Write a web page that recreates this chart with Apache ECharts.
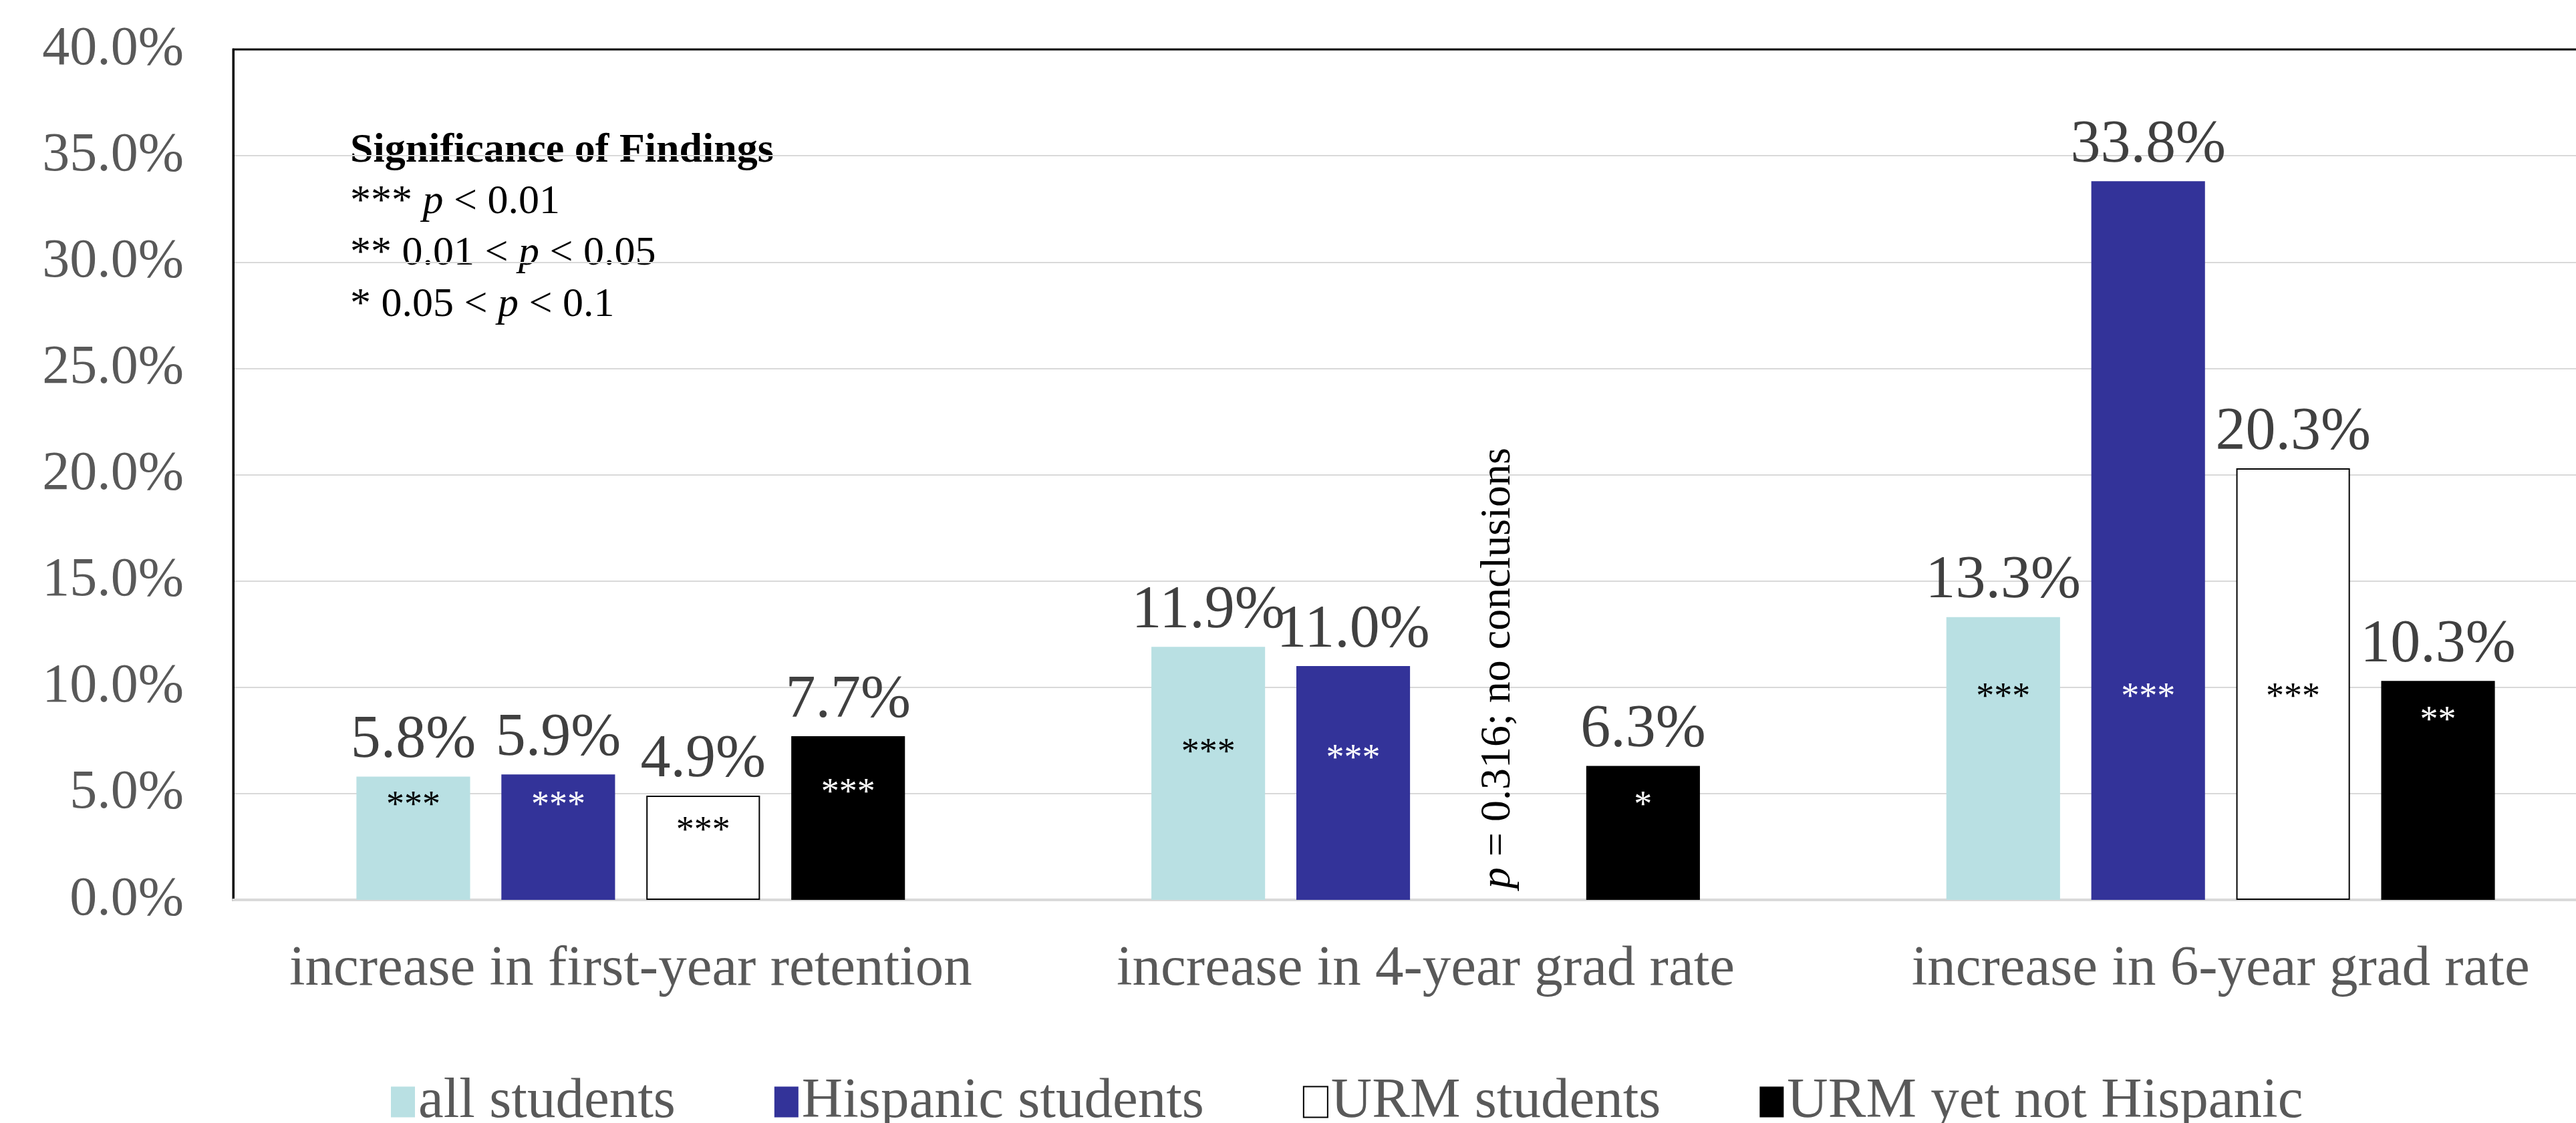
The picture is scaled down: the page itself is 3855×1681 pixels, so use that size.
<!DOCTYPE html>
<html>
<head>
<meta charset="utf-8">
<script src="https://cdn.jsdelivr.net/npm/echarts@6/dist/echarts.min.js"></script>
<style>
html,body{margin:0;padding:0;background:#fff;}
#main{width:3855px;height:1681px;}
</style>
</head>
<body>
<div id="main"></div>
<script>
// categories and series values (percent)
var categories = ['increase in first-year retention', 'increase in 4-year grad rate', 'increase in 6-year grad rate'];
var seriesNames = ['all students', 'Hispanic students', 'URM students', 'URM yet not Hispanic'];
var allStudents = [5.8, 11.9, 13.3];
var hispanic = [5.9, 11.0, 33.8];
var urm = [4.9, null, 20.3];
var urmNotHispanic = [7.7, 6.3, 10.3];

// significance stars drawn inside the bars, and the height they sit at
var sigAll = ['***', '***', '***'];
var sigAllAt = [4.4, 6.9, 9.5];
var sigHispanic = ['***', '***', '***'];
var sigHispanicAt = [4.4, 6.6, 9.5];
var sigUrm = ['***', null, '***'];
var sigUrmAt = [3.2, null, 9.5];
var sigBlack = ['***', '*', '**'];
var sigBlackAt = [5.0, 4.4, 8.4];

var yTicks = {min: 0, max: 40, interval: 5};

var serif = '"Liberation Serif", "Times New Roman", serif';

function starPoints(stars, at, color){
	var pts = [];
	for(var i=0;i<stars.length;i++){
		if(stars[i]){
			pts.push({name: stars[i], coord: [i, at[i]]});
		}
	}
	return {
		symbol: 'rect',
		symbolSize: 1,
		itemStyle: {color: 'rgba(0,0,0,0)'},
		label: {
			show: true,
			position: 'inside',
			formatter: '{b}',
			color: color,
			fontFamily: serif,
			fontSize: 54
		},
		data: pts
	};
}

function valueLabel(){
	return {
		show: true,
		position: 'top',
		distance: 8,
		color: '#404040',
		fontFamily: serif,
		fontSize: 90,
		formatter: function(p){
			return p.value == null ? '' : p.value.toFixed(1) + '%';
		}
	};
}

var urmMarks = starPoints(sigUrm, sigUrmAt, '#000');
// note on the missing URM bar for the 4-year grad rate
urmMarks.data.push({
	name: 'note',
	coord: [1, 10.9],
	label: {
		rotate: 90,
		formatter: '{i|p} = 0.316; no conclusions',
		color: '#000',
		fontSize: 64,
		rich: {i: {fontStyle: 'italic', fontFamily: serif, fontSize: 64, color: '#000'}}
	}
});

// grid lines light grey, the top one (40%) black like the frame
var splitColors = [];
for(var k=yTicks.min;k<yTicks.max;k+=yTicks.interval){
	splitColors.push('#d9d9d9');
}
splitColors.push('#000');

var myChart = echarts.init(document.getElementById('main'));
myChart.setOption({
	animation: false,
	backgroundColor: '#fff',
	textStyle: {fontFamily: serif},
	grid: {
		left: 349,
		width: 3569,
		top: 74,
		bottom: 334,
		outerBoundsMode: 'none',
		show: true,
		borderColor: '#000',
		borderWidth: 3,
		backgroundColor: 'transparent'
	},
	legend: {
		data: seriesNames,
		left: 580,
		top: 1602,
		icon: 'rect',
		itemWidth: 36,
		itemHeight: 46,
		itemGap: 148,
		textStyle: {color: '#595959', fontFamily: serif, fontSize: 85}
	},
	xAxis: {
		type: 'category',
		data: categories,
		axisLine: {lineStyle: {color: '#d9d9d9', width: 4}},
		axisTick: {show: false},
		axisLabel: {color: '#595959', fontFamily: serif, fontSize: 85, margin: 62, interval: 0}
	},
	yAxis: {
		type: 'value',
		min: yTicks.min,
		max: yTicks.max,
		interval: yTicks.interval,
		axisLine: {show: true, lineStyle: {color: '#000', width: 3}},
		axisTick: {show: false},
		splitLine: {lineStyle: {color: splitColors, width: 2}},
		axisLabel: {
			color: '#595959',
			fontFamily: serif,
			fontSize: 82,
			margin: 74,
			formatter: function(v){ return v.toFixed(1) + '%'; }
		}
	},
	graphic: [{
		type: 'text',
		left: 524,
		top: 195,
		style: {
			text: '{b|Significance of Findings}\n{n|*** }{i|p}{n| < 0.01}\n{n|** 0.01 < }{i|p}{n| < 0.05}\n{n|* 0.05 < }{i|p}{n| < 0.1}',
			rich: {
				b: {fontFamily: serif, fontWeight: 'bold', fontSize: 62, lineHeight: 77, fill: '#000'},
				n: {fontFamily: serif, fontSize: 62, lineHeight: 77, fill: '#000'},
				i: {fontFamily: serif, fontStyle: 'italic', fontSize: 62, lineHeight: 77, fill: '#000'}
			}
		}
	}],
	series: [{
		name: seriesNames[0],
		type: 'bar',
		data: allStudents,
		barGap: '27.5%',
		barCategoryGap: '31%',
		itemStyle: {color: '#b9e0e3'},
		label: valueLabel(),
		markPoint: starPoints(sigAll, sigAllAt, '#000')
	}, {
		name: seriesNames[1],
		type: 'bar',
		data: hispanic,
		itemStyle: {color: '#333399'},
		label: valueLabel(),
		markPoint: starPoints(sigHispanic, sigHispanicAt, '#fff')
	}, {
		name: seriesNames[2],
		type: 'bar',
		data: urm,
		itemStyle: {color: '#ffffff', borderColor: '#000', borderWidth: 2},
		label: valueLabel(),
		markPoint: urmMarks
	}, {
		name: seriesNames[3],
		type: 'bar',
		data: urmNotHispanic,
		itemStyle: {color: '#000000'},
		label: valueLabel(),
		markPoint: starPoints(sigBlack, sigBlackAt, '#fff')
	}]
});

window.addEventListener('resize', function(){
	myChart.resize();
});
</script>
</body>
</html>
